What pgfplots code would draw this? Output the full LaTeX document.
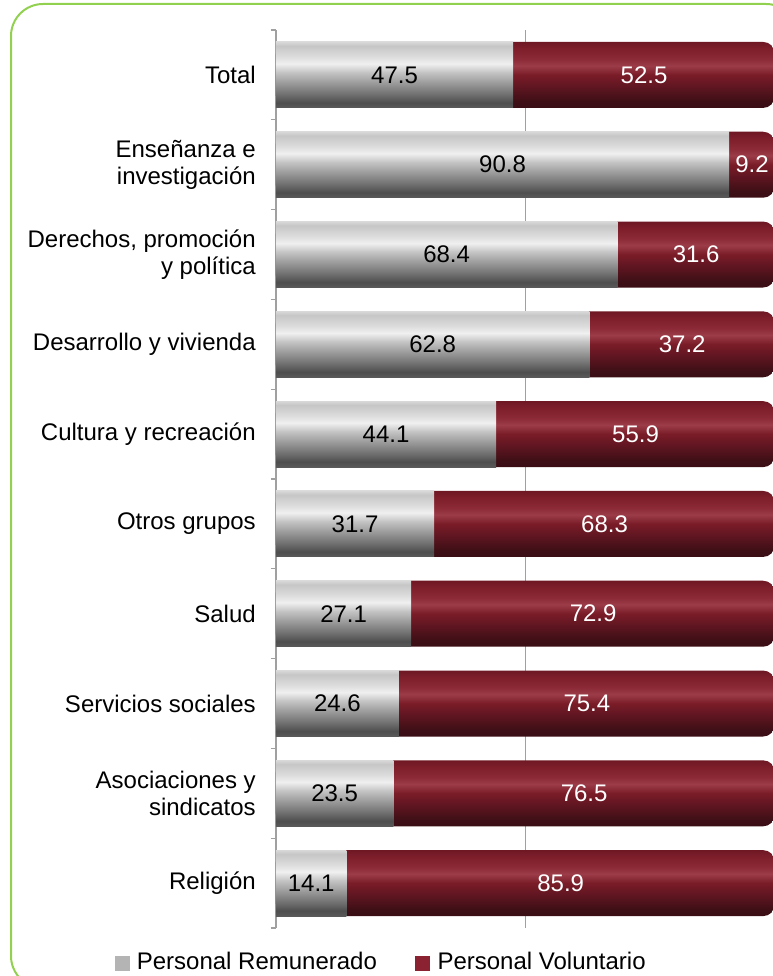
\documentclass[border=0pt]{standalone}
\usepackage{pgfplots}
\pgfplotsset{compat=1.18}
\usepackage{pgfplotstable}
\usepackage{fontspec}
\setmainfont{Liberation Sans}

\definecolor{frame}{HTML}{92D050}
\definecolor{axisgray}{HTML}{A0A0A0}
\definecolor{legray}{HTML}{B4B4B4}
\definecolor{lered}{HTML}{8B2232}
% gray bar stops
\definecolor{g0}{HTML}{5A5A5A}
\definecolor{g1}{HTML}{4E4E4E}
\definecolor{g2}{HTML}{6E6E6E}
\definecolor{g3}{HTML}{A0A0A0}
\definecolor{g4}{HTML}{C4C4C4}
\definecolor{g5}{HTML}{F0F0F0}
\definecolor{g6}{HTML}{DCDCDC}
\definecolor{g7}{HTML}{C6C6C6}
\definecolor{g8}{HTML}{D8D8D8}
% red bar stops
\definecolor{r0}{HTML}{3A0D14}
\definecolor{r1}{HTML}{3E0F16}
\definecolor{r2}{HTML}{5C1520}
\definecolor{r3}{HTML}{7A1C28}
\definecolor{r4}{HTML}{9C3C49}
\definecolor{r5}{HTML}{8C2A37}
\definecolor{r6}{HTML}{7E1E2B}
\definecolor{r7}{HTML}{6E1824}

\pgfdeclareverticalshading{graybar}{100bp}{color(0bp)=(g0); color(25bp)=(g0); color(29bp)=(g1); color(35bp)=(g2); color(45bp)=(g3); color(52bp)=(g4); color(58.5bp)=(g5); color(64bp)=(g6); color(72bp)=(g7); color(75bp)=(g8); color(100bp)=(g8)}
\pgfdeclareverticalshading{redbar}{100bp}{color(0bp)=(r0); color(25bp)=(r0); color(30bp)=(r1); color(40bp)=(r2); color(50bp)=(r3); color(57bp)=(r4); color(62bp)=(r5); color(70bp)=(r6); color(75bp)=(r7); color(100bp)=(r7)}

\pgfplotstableread{
idx rem vol
0 47.5 52.5
1 90.8 9.2
2 68.4 31.6
3 62.8 37.2
4 44.1 55.9
5 31.7 68.3
6 27.1 72.9
7 24.6 75.4
8 23.5 76.5
9 14.1 85.9
}\data

\newcommand{\bigfont}{\fontsize{18}{20.5}\selectfont}

\begin{document}
\begin{tikzpicture}
\clip (0,0) rectangle (579.75pt,732pt);
\draw[frame, line width=1.5pt, rounded corners=24pt] (8.25pt,-9pt) rectangle (598.5pt,729pt);
\begin{axis}[
  at={(207pt,36pt)}, anchor=south west,
  scale only axis, width=374.25pt, height=673.5pt,
  xmin=0, xmax=100, ymin=-0.5, ymax=9.5, y dir=reverse,
  axis lines*=left, separate axis lines,
  x axis line style={draw=none},
  y axis line style={draw=axisgray, line width=1.2pt},
  xtick={50}, xticklabels={}, xmajorgrids,
  major x grid style={axisgray, line width=1pt},
  xtick style={draw=none},
  ytick={0,...,9},
  major tick length=0pt,
  minor ytick={-0.5,0.5,...,9.5},
  minor tick length=4pt, tick align=outside,
  minor tick style={axisgray, line width=1pt},
  yticklabels={Total,{Enseñanza e\\investigación},{Derechos, promoción\\y política},Desarrollo y vivienda,Cultura y recreación,Otros grupos,Salud,Servicios sociales,{Asociaciones y\\sindicatos},Religión},
  yticklabel style={align=right, font=\bigfont, inner sep=0pt, xshift=-15pt},
  legend style={at={(axis description cs:0.2114,-0.0375)}, anchor=center,
    draw=none, fill=none, font=\bigfont, legend columns=2,
    /tikz/every even column/.append style={column sep=26.75pt}},
  legend cell align=left,
]
\pgfplotsinvokeforeach{0,...,9}{
  \addplot[xbar, bar width=0.735, bar shift=0pt, draw=none, shading=redbar, rounded corners=9pt, forget plot,
    y filter/.expression={\coordindex==#1 ? y : nan}]
    table[x expr=\thisrow{rem}+\thisrow{vol}, y=idx] {\data};
  \addplot[xbar, bar width=0.735, bar shift=0pt, draw=none, shading=graybar, forget plot,
    y filter/.expression={\coordindex==#1 ? y : nan}]
    table[x=rem, y=idx] {\data};
}
\addplot[draw=none, mark=none, forget plot, nodes near coords, point meta=explicit symbolic,
  every node near coord/.append style={anchor=center, text=black, font=\bigfont}]
  table[x expr=\thisrow{rem}/2, y=idx, meta=rem] {\data};
\addplot[draw=none, mark=none, forget plot, nodes near coords, point meta=explicit symbolic,
  every node near coord/.append style={anchor=center, text=white, font=\bigfont}]
  table[x expr=\thisrow{rem}+\thisrow{vol}/2, y=idx, meta=vol] {\data};
\addlegendimage{legend image code/.code={\fill[legray] (0pt,-6.5pt) rectangle (10.5pt,4pt); \path (14.25pt,0pt);}}
\addlegendentry{Personal Remunerado}
\addlegendimage{legend image code/.code={\fill[lered] (0pt,-6.5pt) rectangle (10.5pt,4pt); \path (14.25pt,0pt);}}
\addlegendentry{Personal Voluntario}
\end{axis}
\end{tikzpicture}
\end{document}
